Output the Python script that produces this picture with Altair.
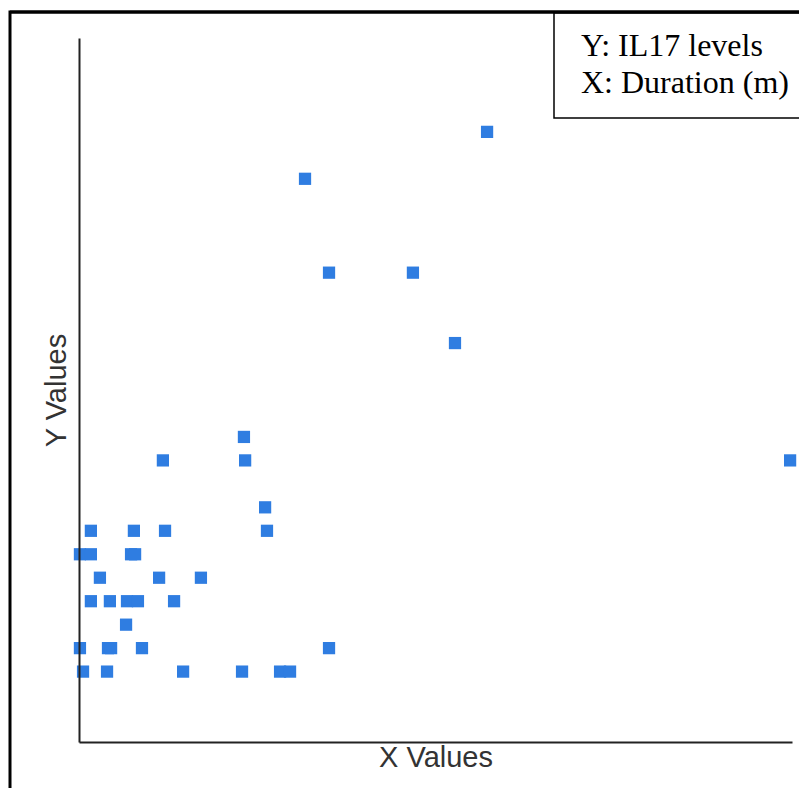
import altair as alt
import pandas as pd

# Duration (m) and IL17 level for each observation
duration = [171.7, 95.1, 105.2, 140.5, 158.2, 69.4, 35.3, 69.9, 299.2, 78.3,
            5.0, 23.1, 36.2, 79.1, 0.4, 5.0, 21.9, 23.6, 8.8, 33.7, 51.3,
            5.0, 13.0, 20.2, 24.8, 40.0, 19.8, 0.4, 12.2, 13.5, 26.5, 105.2,
            1.7, 11.8, 43.8, 68.6, 84.6, 88.8]
il17 = [26, 24, 20, 20, 17, 13, 12, 12, 12, 10,
        9, 9, 9, 9, 8, 8, 8, 8, 7, 7, 7,
        6, 6, 6, 6, 6, 5, 4, 4, 4, 4, 4,
        3, 3, 3, 3, 3, 3]
legend_lines = ["Y: IL17 levels", "X: Duration (m)"]
x_title = "X Values"
y_title = "Y Values"

df = pd.DataFrame({"duration": duration, "il17": il17})
one = alt.Data(values=[{"k": 1}])

frame = alt.Chart(one).mark_rect(fill="white", stroke="black", strokeWidth=3).encode(
    x=alt.value(-69), x2=alt.value(780), y=alt.value(-26), y2=alt.value(800)
)

points = alt.Chart(df).mark_square(size=150, color="#2f7de1", opacity=1).encode(
    x=alt.X("duration:Q", title=x_title,
            scale=alt.Scale(domain=[0, 300], nice=False, zero=True),
            axis=alt.Axis(ticks=False, labels=False, grid=False, domainColor="#222",
                          domainWidth=2, titleFont="Liberation Sans", titleFontSize=29,
                          titleFontWeight="normal", titleColor="#333", titlePadding=1,
                          zindex=1)),
    y=alt.Y("il17:Q", title=y_title,
            scale=alt.Scale(domain=[0, 30], nice=False, zero=True),
            axis=alt.Axis(ticks=False, labels=False, grid=False, domainColor="#222",
                          domainWidth=2, titleFont="Liberation Sans", titleFontSize=29,
                          titleFontWeight="normal", titleColor="#333", titlePadding=8,
                          zindex=1)),
)

legend_box = alt.Chart(one).mark_rect(fill="white", stroke="black", strokeWidth=1.5).encode(
    x=alt.value(475), x2=alt.value(780), y=alt.value(-25), y2=alt.value(80)
)

legend_text = alt.Chart(one).mark_text(
    font="Liberation Serif", fontSize=32, color="black", align="left",
    baseline="alphabetic", lineHeight=37
).encode(x=alt.value(502), y=alt.value(18), text=alt.value(legend_lines))

top_edge = alt.Chart(one).mark_rule(color="black", strokeWidth=3).encode(
    x=alt.value(-69), x2=alt.value(780), y=alt.value(-26)
)

chart = alt.layer(frame, points, legend_box, legend_text, top_edge).properties(
    width=713, height=704,
    autosize=alt.AutoSizeParams(type="none"),
    padding={"left": 71, "top": 30, "right": 7, "bottom": 46},
).configure_view(stroke=None).configure(background="white")

chart.save("out.html", embed_options={"renderer": "svg", "actions": False})
